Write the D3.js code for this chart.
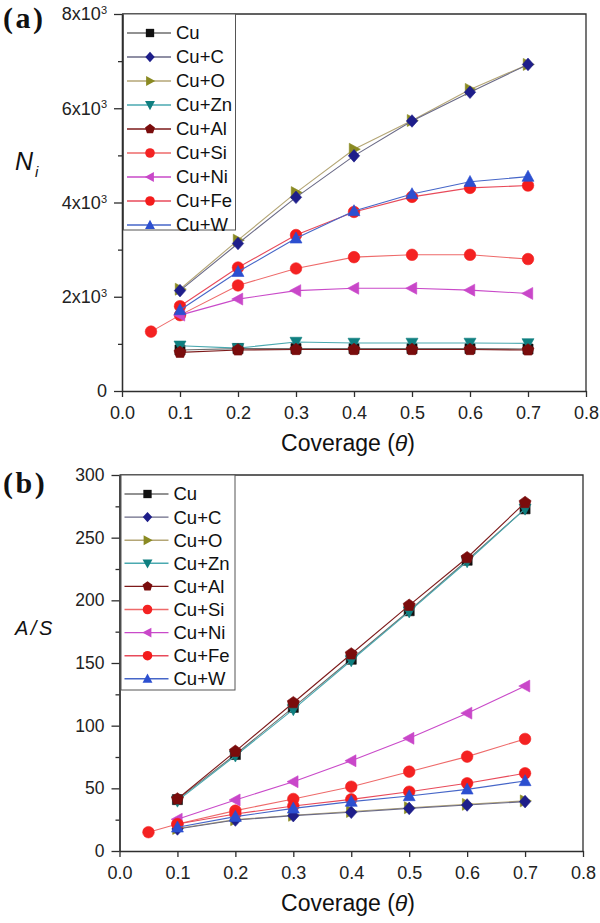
<!DOCTYPE html>
<html>
<head>
<meta charset="utf-8">
<script src="https://cdn.jsdelivr.net/npm/d3@7/dist/d3.min.js"></script>
<style>
  html, body { margin: 0; padding: 0; background: #fff; }
  svg { display: block; font-family: "Liberation Sans", Arial, sans-serif; }
</style>
</head>
<body>
<svg id="chart" width="600" height="923"></svg>
<script>
// Coverage values (theta); the Cu+Si series starts at 0.05
const theta   = [0.1, 0.2, 0.3, 0.4, 0.5, 0.6, 0.7];
const thetaSi = [0.05, 0.1, 0.2, 0.3, 0.4, 0.5, 0.6, 0.7];

const seriesNames = ["Cu", "Cu+C", "Cu+O", "Cu+Zn", "Cu+Al", "Cu+Si", "Cu+Ni", "Cu+Fe", "Cu+W"];

// (a) N_i
const niCu = [870, 900, 900, 900, 900, 900, 890];
const niC  = [2130, 3130, 4110, 4990, 5730, 6340, 6930];
const niO  = [2160, 3200, 4210, 5130, 5740, 6400, 6930];
const niZn = [960, 910, 1040, 1020, 1020, 1020, 1010];
const niAl = [820, 870, 880, 880, 880, 880, 870];
const niSi = [1260, 1610, 2240, 2600, 2840, 2890, 2890, 2800];
const niNi = [1610, 1950, 2130, 2180, 2180, 2140, 2070];
const niFe = [1800, 2620, 3310, 3800, 4120, 4310, 4360];
const niW  = [1720, 2530, 3240, 3820, 4180, 4440, 4550];

// (b) A/S
const asCu = [41, 77, 114.6, 153, 191.7, 232, 273];
const asC  = [17.6, 24.7, 28.2, 30.9, 34, 36.7, 39.4];
const asO  = [18, 25, 28.5, 31.5, 34.5, 37.2, 40];
const asZn = [40, 76, 113, 152, 191, 231, 273];
const asAl = [41.5, 79.5, 118.3, 157.2, 196, 234, 278];
const asSi = [15, 21.5, 32.2, 41.5, 51.3, 63.3, 75.3, 89.4];
const asNi = [25.3, 40.7, 55.3, 72, 89.9, 110, 131.6];
const asFe = [21.5, 29.5, 35.9, 41.2, 47.3, 54, 62];
const asW  = [18.9, 27.4, 34, 39.4, 43.9, 49.2, 55.9];

// axis ticks
const xTicks = [0, 0.1, 0.2, 0.3, 0.4, 0.5, 0.6, 0.7, 0.8];
const yTicksA = [0, 2000, 4000, 6000, 8000];
const yMinorA = [1000, 3000, 5000, 7000];
const yTicksB = [0, 50, 100, 150, 200, 250, 300];
const yMinorB = [25, 75, 125, 175, 225, 275];

// marker / line style per series
const styles = {
  "Cu":    { shape: "square",   fill: "#111111", line: "#6e6e6e" },
  "Cu+C":  { shape: "diamond",  fill: "#1e1e8a", line: "#6a6a86" },
  "Cu+O":  { shape: "triRight", fill: "#8a8a22", line: "#b4a676" },
  "Cu+Zn": { shape: "triDown",  fill: "#0f7f80", line: "#4aa9b0" },
  "Cu+Al": { shape: "pentagon", fill: "#7a0c0c", line: "#7d1a1a" },
  "Cu+Si": { shape: "circle",   fill: "#f42222", line: "#ee6a6a" },
  "Cu+Ni": { shape: "triLeft",  fill: "#c947c9", line: "#c94ac9" },
  "Cu+Fe": { shape: "circle",   fill: "#f41c1c", line: "#e84a5a" },
  "Cu+W":  { shape: "triUp",    fill: "#2c4fd0", line: "#4666c8" }
};

const drawOrder = ["Cu", "Cu+Zn", "Cu+Al", "Cu+O", "Cu+C", "Cu+Si", "Cu+Ni", "Cu+Fe", "Cu+W"];

function shapePath(type, r) {
  const p = d3.path();
  const k = 0.95;
  switch (type) {
    case "square":
      p.rect(-r * 0.8, -r * 0.8, r * 1.6, r * 1.6); break;
    case "diamond":
      p.moveTo(0, -r); p.lineTo(r * 0.9, 0); p.lineTo(0, r); p.lineTo(-r * 0.9, 0); p.closePath(); break;
    case "triUp":
      p.moveTo(0, -r); p.lineTo(r * k, r * 0.75); p.lineTo(-r * k, r * 0.75); p.closePath(); break;
    case "triDown":
      p.moveTo(0, r); p.lineTo(r * k, -r * 0.75); p.lineTo(-r * k, -r * 0.75); p.closePath(); break;
    case "triRight":
      p.moveTo(r, 0); p.lineTo(-r * 0.75, r * k); p.lineTo(-r * 0.75, -r * k); p.closePath(); break;
    case "triLeft":
      p.moveTo(-r, 0); p.lineTo(r * 0.75, r * k); p.lineTo(r * 0.75, -r * k); p.closePath(); break;
    case "pentagon":
      for (let i = 0; i < 5; i++) {
        const a = -Math.PI / 2 + i * 2 * Math.PI / 5;
        const px = r * Math.cos(a), py = r * Math.sin(a);
        if (i === 0) p.moveTo(px, py); else p.lineTo(px, py);
      }
      p.closePath(); break;
    default:
      p.arc(0, 0, r * 0.92, 0, 2 * Math.PI); p.closePath();
  }
  return p.toString();
}

const svg = d3.select("#chart");
const axisColor = "#2e2e2e";

function drawPanel(cfg) {
  const x = d3.scaleLinear().domain([0, 0.8]).range([cfg.left, cfg.right]);
  const y = d3.scaleLinear().domain([0, cfg.ymax]).range([cfg.bottom, cfg.top]);
  const g = svg.append("g");

  // frame (top and right edges)
  g.append("path")
    .attr("d", `M${cfg.left},${cfg.top}H${cfg.right}V${cfg.bottom}`)
    .attr("fill", "none").attr("stroke", axisColor).attr("stroke-width", 1.3);

  // x axis
  const xa = g.append("g").attr("transform", `translate(0,${cfg.bottom})`)
    .call(d3.axisBottom(x).tickValues(xTicks).tickFormat(d3.format(".1f"))
      .tickSizeInner(6).tickSizeOuter(0).tickPadding(9));
  xa.selectAll("path, line").attr("stroke", axisColor).attr("stroke-width", 1.3);
  xa.selectAll("text").attr("font-size", 18).attr("fill", "#222")
    .attr("font-family", "Liberation Sans, Arial, sans-serif");

  // y axis, minor ticks
  const ym = g.append("g").attr("transform", `translate(${cfg.left},0)`)
    .call(d3.axisLeft(y).tickValues(cfg.minor).tickFormat("").tickSizeInner(4).tickSizeOuter(0));
  ym.selectAll("path, line").attr("stroke", axisColor).attr("stroke-width", 1.3);

  // y axis, major ticks
  const ya = g.append("g").attr("transform", `translate(${cfg.left},0)`)
    .call(d3.axisLeft(y).tickValues(cfg.ticks).tickFormat(cfg.fmt)
      .tickSizeInner(8).tickSizeOuter(0).tickPadding(7));
  ya.selectAll("path, line").attr("stroke", axisColor).attr("stroke-width", 1.3);
  ya.selectAll("text").attr("font-size", cfg.tickFont).attr("fill", "#222")
    .attr("font-family", "Liberation Sans, Arial, sans-serif");
  if (cfg.sup) {
    ya.selectAll(".tick text").filter(d => d !== 0)
      .append("tspan").attr("dy", "-0.55em").attr("font-size", 11).text(cfg.sup);
  }

  // series
  const plot = g.append("g");
  drawOrder.forEach(name => {
    const vals = cfg.data[name];
    const xs = name === "Cu+Si" ? thetaSi : theta;
    const pts = vals.map((v, i) => [x(xs[i]), y(v)]);
    const st = styles[name];
    plot.append("path")
      .attr("d", d3.line()(pts))
      .attr("fill", "none").attr("stroke", st.line).attr("stroke-width", 1.1);
    plot.selectAll(null).data(pts).enter().append("path")
      .attr("transform", d => `translate(${d[0]},${d[1]})`)
      .attr("d", shapePath(st.shape, 6.3))
      .attr("fill", st.fill).attr("stroke", st.fill).attr("stroke-width", 0.6);
  });

  // legend
  const lg = g.append("g");
  lg.append("rect")
    .attr("x", cfg.left + 1.5).attr("y", cfg.top)
    .attr("width", cfg.legendW).attr("height", cfg.legendH)
    .attr("fill", "#fff").attr("stroke", "#555").attr("stroke-width", 1);
  seriesNames.forEach((name, i) => {
    const ry = cfg.top + cfg.legendFirst + i * cfg.legendStep;
    const st = styles[name];
    lg.append("line")
      .attr("x1", cfg.left + 5).attr("x2", cfg.left + 49)
      .attr("y1", ry).attr("y2", ry)
      .attr("stroke", st.line).attr("stroke-width", 1.4);
    lg.append("path")
      .attr("transform", `translate(${cfg.left + 28},${ry})`)
      .attr("d", shapePath(st.shape, 5.2))
      .attr("fill", st.fill);
    lg.append("text")
      .attr("x", cfg.left + 54).attr("y", ry + 6.4)
      .attr("font-size", 18.5).attr("fill", "#111")
      .text(name);
  });

  // x axis title
  const xt = g.append("text")
    .attr("x", 348).attr("y", cfg.bottom + 60)
    .attr("text-anchor", "middle").attr("font-size", 23).attr("fill", "#111");
  xt.append("tspan").text("Coverage (");
  xt.append("tspan").attr("font-style", "italic").text("θ");
  xt.append("tspan").text(")");

  // panel letter
  g.append("text")
    .attr("x", 3).attr("y", cfg.top + cfg.letterDy)
    .attr("font-family", "Liberation Serif, Times New Roman, serif")
    .attr("font-weight", "bold").attr("font-size", 30).attr("letter-spacing", 2.5)
    .attr("fill", "#111").text(cfg.letter);

  return g;
}

drawPanel({
  left: 122, right: 586, top: 14, bottom: 391, ymax: 8000,
  ticks: yTicksA, minor: yMinorA, tickFont: 18, sup: "3",
  fmt: d => d === 0 ? "0" : (d / 1000) + "x10",
  data: { "Cu": niCu, "Cu+C": niC, "Cu+O": niO, "Cu+Zn": niZn, "Cu+Al": niAl,
          "Cu+Si": niSi, "Cu+Ni": niNi, "Cu+Fe": niFe, "Cu+W": niW },
  legendW: 112, legendH: 216, legendFirst: 19, legendStep: 24,
  letter: "(a)", letterDy: 14
});

drawPanel({
  left: 119.5, right: 583, top: 475, bottom: 851, ymax: 300,
  ticks: yTicksB, minor: yMinorB, tickFont: 17.5, sup: null,
  fmt: d3.format("d"),
  data: { "Cu": asCu, "Cu+C": asC, "Cu+O": asO, "Cu+Zn": asZn, "Cu+Al": asAl,
          "Cu+Si": asSi, "Cu+Ni": asNi, "Cu+Fe": asFe, "Cu+W": asW },
  legendW: 114, legendH: 215, legendFirst: 19, legendStep: 23.1,
  letter: "(b)", letterDy: 18
});

// y axis titles
const yA = svg.append("text").attr("x", 15).attr("y", 170)
  .attr("font-style", "italic").attr("fill", "#111");
yA.append("tspan").attr("font-size", 25).text("N");
yA.append("tspan").attr("font-size", 15).attr("dx", 2).attr("dy", 7).text("i");

svg.append("text").attr("x", 15).attr("y", 635)
  .attr("font-style", "italic").attr("font-size", 20).attr("letter-spacing", 2.5)
  .attr("fill", "#111").text("A/S");
</script>
</body>
</html>
